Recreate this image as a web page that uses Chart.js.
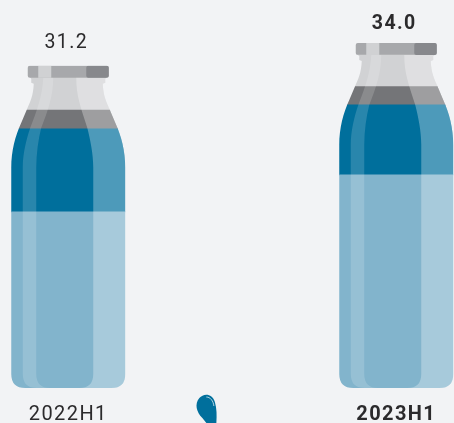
<!DOCTYPE html>
<html><head><meta charset="utf-8">
<style>html,body{margin:0;padding:0;background:#F2F3F5;overflow:hidden}canvas{display:block}</style>
<script src="https://cdn.jsdelivr.net/npm/chart.js@4"></script>
</head><body><canvas id="c" width="454" height="423"></canvas>
<script>
const categories = ['2022H1', '2023H1'];
const totals = ['31.2', '34.0'];
const liquidPale = [17.35, 21.0];
const liquidDeep = [8.2, 6.9];
const bandGrey = [1.85, 1.8];
const neckGrey = [3.15, 3.1];
const capGrey = [1.2, 1.2];
const axisMax = 34;

function sil(ctx, cx, t, b) {
  const L = h => cx - h, R = h => cx + h;
  ctx.moveTo(L(38.5), t);
  ctx.lineTo(R(38.5), t);
  ctx.quadraticCurveTo(R(40.5), t, R(40.5), t + 2);
  ctx.lineTo(R(40.5), t + 10);
  ctx.quadraticCurveTo(R(40.5), t + 12, R(38.5), t + 12);
  ctx.lineTo(R(37), t + 12.5); ctx.lineTo(R(37), t + 17); ctx.lineTo(R(34.5), t + 18);
  ctx.bezierCurveTo(R(35), t + 30, R(38), t + 36, R(41.5), t + 44);
  ctx.lineTo(R(47), t + 57);
  ctx.bezierCurveTo(R(53), t + 70, R(57), t + 85, R(57), t + 102);
  ctx.lineTo(R(57), b - 14);
  ctx.quadraticCurveTo(R(57), b, R(43), b);
  ctx.lineTo(L(43), b);
  ctx.quadraticCurveTo(L(57), b, L(57), b - 14);
  ctx.lineTo(L(57), t + 102);
  ctx.bezierCurveTo(L(57), t + 85, L(53), t + 70, L(47), t + 57);
  ctx.lineTo(L(41.5), t + 44);
  ctx.bezierCurveTo(L(38), t + 36, L(35), t + 30, L(34.5), t + 18);
  ctx.lineTo(L(37), t + 17); ctx.lineTo(L(37), t + 12.5); ctx.lineTo(L(38.5), t + 12);
  ctx.quadraticCurveTo(L(40.5), t + 12, L(40.5), t + 10);
  ctx.lineTo(L(40.5), t + 2);
  ctx.quadraticCurveTo(L(40.5), t, L(38.5), t);
  ctx.closePath();
}

function geo(chart) {
  const last = chart.getDatasetMeta(chart.data.datasets.length - 1).data;
  return last.map(b => ({ cx: b.x, t: b.y, b: chart.scales.y.getPixelForValue(0) }));
}

const bottlePlugin = {
  id: 'bottle',
  beforeDraw(chart) { chart.ctx.letterSpacing = '1.4px'; },
  beforeDatasetsDraw(chart) {
    const ctx = chart.ctx;
    ctx.save();
    ctx.beginPath();
    geo(chart).forEach(g => sil(ctx, g.cx, g.t, g.b));
    ctx.clip();
  },
  afterDatasetsDraw(chart) {
    const ctx = chart.ctx;
    geo(chart).forEach(g => {
      const { cx, t, b } = g;
      ctx.fillStyle = 'rgba(255,255,255,0.16)';
      ctx.beginPath();
      ctx.moveTo(cx - 25, t + 12);
      ctx.bezierCurveTo(cx - 26, t + 30, cx - 31, t + 44, cx - 38, t + 62);
      ctx.bezierCurveTo(cx - 42, t + 74, cx - 45.5, t + 88, cx - 45.5, t + 102);
      ctx.lineTo(cx - 45.5, b - 14);
      ctx.quadraticCurveTo(cx - 45.5, b, cx - 31.5, b);
      ctx.lineTo(cx - 18, b);
      ctx.quadraticCurveTo(cx - 32, b, cx - 32, b - 14);
      ctx.lineTo(cx - 32, t + 102);
      ctx.bezierCurveTo(cx - 32, t + 88, cx - 30, t + 74, cx - 27, t + 62);
      ctx.bezierCurveTo(cx - 20, t + 44, cx - 15, t + 30, cx - 15, t + 12);
      ctx.closePath(); ctx.fill();
      ctx.fillStyle = 'rgba(255,255,255,0.3)';
      ctx.beginPath();
      ctx.moveTo(cx + 8, t + 12);
      ctx.bezierCurveTo(cx + 8, t + 30, cx + 12, t + 40, cx + 19, t + 62);
      ctx.bezierCurveTo(cx + 22, t + 74, cx + 25, t + 88, cx + 25, t + 102);
      ctx.lineTo(cx + 25, b - 14);
      ctx.quadraticCurveTo(cx + 25, b, cx + 11, b);
      ctx.lineTo(cx + 60, b); ctx.lineTo(cx + 60, t + 12);
      ctx.closePath(); ctx.fill();
      ctx.fillStyle = '#D0D1D3';
      ctx.fillRect(cx - 30, t, 13, 12);
      ctx.fillStyle = '#87888C';
      ctx.beginPath();
      ctx.roundRect(cx + 18, t, 24, 12, 2);
      ctx.fill();
    });
    ctx.restore();
    const s = chart.scales.x;
    const x = s.getPixelForValue(0) + 0.418 * (s.getPixelForValue(1) - s.getPixelForValue(0));
    const y = chart.height;
    ctx.save();
    ctx.fillStyle = '#006F9C';
    ctx.beginPath();
    ctx.moveTo(x + 11, y);
    ctx.bezierCurveTo(x + 11.5, y - 8, x + 11.5, y - 14, x + 9.5, y - 21);
    ctx.bezierCurveTo(x + 7, y - 30, x - 2, y - 30, x - 6, y - 25);
    ctx.bezierCurveTo(x - 11, y - 19, x - 9, y - 11, x - 3, y - 5);
    ctx.lineTo(x + 1, y);
    ctx.closePath(); ctx.fill();
    ctx.strokeStyle = 'rgba(255,255,255,0.85)';
    ctx.lineWidth = 0.8;
    ctx.beginPath();
    ctx.moveTo(x + 1, y - 26);
    ctx.bezierCurveTo(x + 5, y - 26, x + 8, y - 22, x + 8.5, y - 17);
    ctx.stroke();
    ctx.restore();
    ctx.save();
    ctx.textAlign = 'center';
    ctx.textBaseline = 'alphabetic';
    ctx.fillStyle = '#2B2A2C';
    geo(chart).forEach((g, i) => {
      ctx.font = (i === 1 ? 'bold ' : '') + '19.5px Roboto';
      ctx.fillText(totals[i], g.cx - 2, g.t - (i === 1 ? 14 : 18));
    });
    ctx.restore();
  }
};

const mk = (data, color) => ({ data, backgroundColor: color, borderWidth: 0, barThickness: 114, clip: false, stack: 's' });

new Chart(document.getElementById('c'), {
  type: 'bar',
  data: {
    labels: categories,
    datasets: [
      mk(liquidPale, '#82B4CC'),
      mk(liquidDeep, '#006F9C'),
      mk(bandGrey, '#747578'),
      mk(neckGrey, '#D1D2D4'),
      mk(capGrey, '#A7A8AB')
    ]
  },
  options: {
    responsive: false, animation: false,
    layout: { padding: { left: 68.25, right: 57.75, top: 43, bottom: 0 } },
    plugins: { legend: { display: false }, tooltip: { enabled: false } },
    scales: {
      x: {
        offset: false, stacked: true,
        afterFit: sc => { sc.height = 35; },
        grid: { display: false, drawTicks: false }, border: { display: false },
        ticks: {
          padding: 15, autoSkip: false, maxRotation: 0, color: '#2B2A2C',
          font: ctx => ({ family: 'Roboto', size: 20, weight: ctx.index === 1 ? 'bold' : 'normal' })
        }
      },
      y: { display: false, stacked: true, min: 0, max: axisMax }
    }
  },
  plugins: [bottlePlugin]
});
</script></body></html>
